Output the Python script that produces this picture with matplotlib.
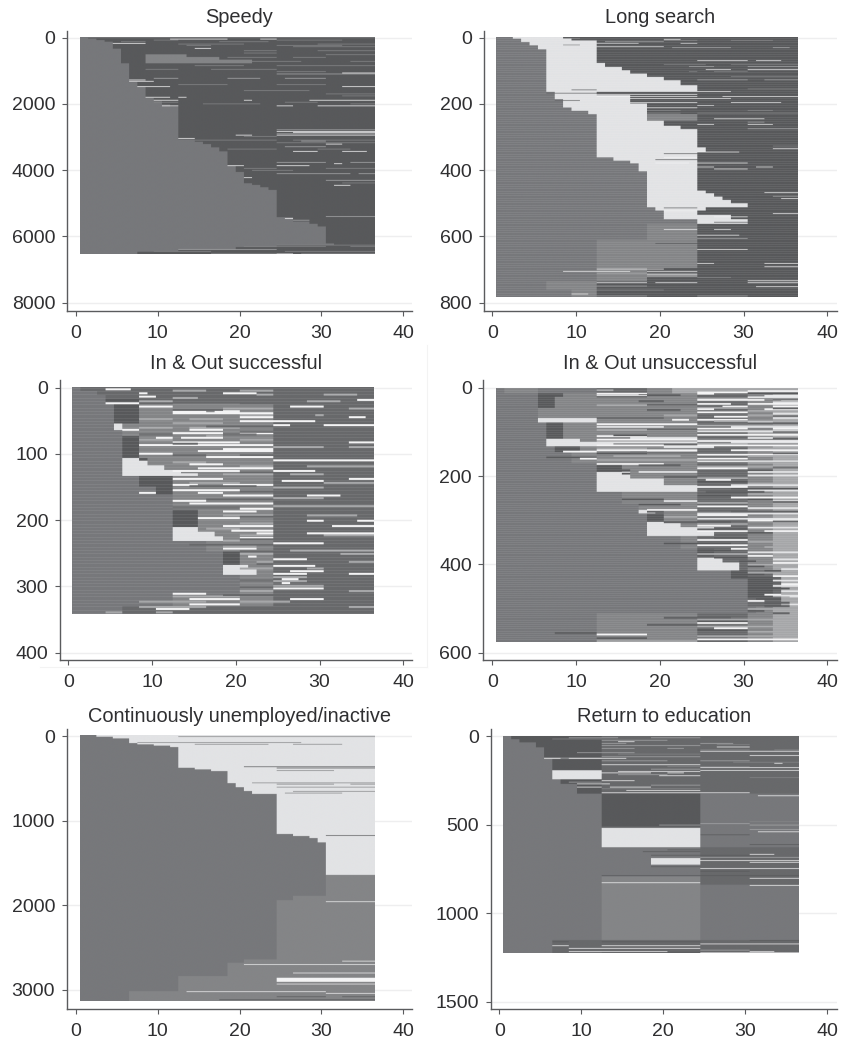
import numpy as np
import matplotlib
matplotlib.use('Agg')
import matplotlib.pyplot as plt
from matplotlib.colors import ListedColormap
from matplotlib.lines import Line2D

plt.rcParams['font.family'] = ['Liberation Sans', 'DejaVu Sans']

# state codes of the sequences, month 1 to 36
state_names = ['a', 'd', 'e', 'm', 'g', 'l', 'w']
state_colors = ['#77787b', '#58595b', '#68696b', '#848587', '#a6a7a9', '#e2e3e5', '#f4f4f5']

titles = ['Speedy', 'Long search', 'In & Out successful', 'In & Out unsuccessful',
          'Continuously unemployed/inactive', 'Return to education']
y_ticks = [[0, 2000, 4000, 6000, 8000], [0, 200, 400, 600, 800], [0, 100, 200, 300, 400],
           [0, 200, 400, 600], [0, 1000, 2000, 3000], [0, 500, 1000, 1500]]
x_ticks = [0, 10, 20, 30, 40]

# bands: last sequence number of the band, then runs of state + months (no number = rest)
# thin: sequence number, state, month ranges of the single sequences that stand out
speedy_rows = [
    "50 a1 d", "90 a2 d", "140 a3 d", "350 a4 d", "520 a5 d", "600 a5 d3 m5 d",
    "680 a5 d3 m9 d", "790 a5 d3 m13 d", "1350 a6 d", "1500 a7 d", "1830 a8 d", "1930 a9 d",
    "2030 a10 d", "2090 a11 d", "3080 a12 d", "3150 a14 d", "3220 a15 d", "3320 a16 d",
    "3440 a17 d", "3860 a18 d", "4060 a19 d", "4400 a20 d", "4450 a21 d", "4520 a22 d",
    "4600 a23 d", "5420 a24 d", "5550 a26 d", "5620 a28 d", "5700 a29 d", "6210 a30 d",
    "6260 a31 d", "6320 a24 d", "6400 a19 d", "6460 a12 d", "6530 a7 d",
]
speedy_thin = [
    "10 m 1-36", "50 w 11-18 22-24", "80 m 9-12 24-32", "130 m 5-8 17-23", "180 w 4-8",
    "200 m 12-20 29-36", "240 m 13-16 24-32", "280 m 26-36", "330 w 14-16", "400 m 20-24 29-36",
    "470 m 20-24", "520 m 30-36", "600 m 18-24 26-30", "720 m 20-27 33-36", "850 m 14-20 24-36",
    "960 m 8-12 16-24", "1030 m 24-30", "1070 w 32-36", "1100 g 24-28 28-36", "1230 g 9-12 18-22 25-30",
    "1280 w 6-8", "1320 w 6-9", "1420 m 12-18 24-30", "1480 w 7-11 32-36", "1600 m 20-28",
    "1700 m 30-36", "1760 m 32-36", "1800 w 8-11 12-13", "1890 w 9-12 20-21 28-36",
    "1950 m 9-12 25-29", "2000 m 15-22 33-36", "2060 w 10-12 24-26 29-36", "2780 g 24-36",
    "2830 w 24-36", "2860 w 26-36", "2900 g 24-32 32-36", "2940 w 19-21 24-36", "2980 m 20-24",
    "3040 w 12-14", "3090 m 14-24 26-36", "3120 g 27-30", "3170 m 24-36", "3210 w 30-32",
    "3290 g 25-30", "3360 m 18-24 29-33", "3430 w 26-29 32-35", "3760 g 24-30 33-36",
    "3800 w 31-32", "3860 w 18-20 24-28", "3940 m 20-24 30-36", "4000 m 21-26", "4100 g 24-33 34-36",
    "4220 w 20-21", "4300 g 30-36", "4380 m 32-36", "4450 w 31-33", "5390 g 30-36", "5450 w 25-26",
    "5500 g 26-28", "6250 m 24-36", "6290 m 20-30 33-36", "6380 g 12-24", "6440 m 9-16 25-36",
    "6500 m 16-24 27-36", "6515 w 24-26",
]

long_search_rows = [
    "5 a2 l6 d", "10 a3 l6 d", "15 a3 l9 d", "25 a4 l8 d", "37 a5 l7 d", "78 a6 l6 d",
    "90 a6 l7 d", "100 a6 l9 d", "110 a6 l10 d", "120 a6 l12 d", "130 a6 l14 d", "145 a6 l16 d",
    "165 a6 l18 d", "175 a7 l5 d", "187 a7 l9 d", "200 a8 l8 d", "212 a8 l10 d", "222 a9 l9 d",
    "232 a11 l7 d", "252 a12 l6 m6 d", "267 a12 l8 d", "277 a12 l10 d", "332 a12 l12 d",
    "345 a12 l13 d", "362 a12 l12 d", "372 a14 l10 d", "380 a16 l8 d", "404 a17 l7 d",
    "462 a18 l6 d", "470 a18 l7 d", "480 a18 l8 d", "490 a18 l9 d", "500 a18 l10 d",
    "512 a18 l12 d", "522 a19 l6 d", "535 a20 l4 d", "548 a20 l8 d", "562 a24 l6 d",
    "610 a18 m6 d", "670 a12 m12 d", "695 a12 m12 d", "735 a12 m6 d", "760 a6 m6 d", "782 a9 m3 d",
]
long_search_thin = [
    "3 m 8-10", "6 w 20-22", "9 m 9-12 20-24 28-33", "13 g 13-20", "18 l 12-17 22-24", "23 m 8-10",
    "28 l 12-20", "31 g 21-28 33-35", "70 w 24-29 29-30 31-34", "82 m 20-25 28-36", "88 g 23-26 30-36",
    "97 w 25-28 30-36", "103 m 23-24 26-30", "118 m 28-36", "128 g 24-30 32-36", "155 m 30-36",
    "158 d 9-12", "163 w 24-28", "168 d 6-12", "172 w 12-24", "178 w 12-24 27-36", "184 w 16-28",
    "190 d 7-10 16-22", "196 w 16-24 28-34", "205 l 14-18 24-26", "212 w 18-24", "220 m 18-22 30-33",
    "228 m 18-22 24-36", "245 w 26-32", "255 g 30-32", "262 w 24-26 30-33", "275 g 30-36",
    "327 m 33-36", "335 w 33-36", "345 w 24-29", "350 d 20-24", "362 w 20-24", "368 d 19-24",
    "378 w 19-23 24-30", "390 w 24-26 31-33", "396 w 26-30", "467 w 32-36", "478 g 33-36",
    "485 w 34-36", "513 d 20-24", "522 w 20-24", "530 w 33-36", "540 w 26-30", "556 d 26-30",
    "578 w 20-24 26-28", "595 w 24-29", "605 g 24-30", "620 d 19-24", "638 w 24-30",
    "680 w 24-26 32-36", "690 w 32-36", "697 w 12-20", "704 w 8-12 12-16 18-24", "710 g 12-24",
    "714 w 18-24", "718 w 18-24", "722 m 12-18 24-28", "732 w 30-36", "738 w 12-18 19-24 30-36", "750 w 31-36",
    "748 g 12-18", "760 m 12-20", "772 w 9-11", "778 g 12-18 24-30",
]

in_out_ok_rows = [
    "6 a1 e", "12 a3 e", "18 a4 e", "26 a4 d4 e", "55 a5 d3 m4 m12 e", "65 a5 l1 m18 e", "74 a6 m18 e",
    "107 a6 d2 m16 e", "111 a6 l2 d1 m15 e", "118 a6 l3 m15 e", "125 a6 l5 m13 e", "130 a6 l7 m11 e",
    "134 a6 l9 m9 e", "150 a8 d4 m12 e", "162 a10 d2 m12 e", "185 a12 m12 e", "211 a12 d3 m9 e",
    "218 a12 l3 m9 e", "225 a12 l5 m7 e", "232 a12 l6 m6 e", "248 a16 m8 e", "268 a18 d2 m4 e",
    "275 a18 l3 m3 e", "283 a18 l4 m2 e", "315 a20 m4 e", "330 a12 m12 e", "342 a6 e",
]
in_out_ok_thin = [
    "2 w 4-7", "4 g 12-16 20-24", "6 e 8-12", "8 w 8-9 18-22", "10 g 22-24 30-34", "13 w 8-10", "15 g 12-15",
    "18 w 34-36", "20 g 8-12 28-32", "23 w 4-8", "25 m 12-20", "28 w 8-12 26-30", "31 g 18-24 33-36",
    "35 w 12-16 17-20", "38 w 12-24", "41 g 20-24 29-30", "44 w 20-24 33-35", "47 g 8-12 14-18",
    "50 w 20-24 24-29", "53 g 12-18", "56 w 24-26 30-36", "60 g 8-12 14-20", "63 w 6-8 14-18",
    "68 w 12-18 20-24", "72 g 16-18", "75 w 10-12 13-18", "78 g 8-12 20-24", "82 w 12-20 33-36",
    "86 w 8-24", "89 g 24-30 33-36", "92 w 18-24", "95 w 15-24", "99 w 8-12", "104 w 16-24",
    "109 w 24-36", "112 g 12-16", "115 w 14-18", "118 g 20-24 28-36", "121 w 15-24", "125 w 12-20 24-29",
    "130 g 18-24 26-30", "137 w 12-18 33-36", "140 w 25-30", "143 g 14-20 30-36", "146 w 12-15 18-24",
    "150 g 24-30", "154 w 12-20", "158 w 8-10 15-18", "162 w 18-24 28-32", "166 g 24-30", "170 w 12-16",
    "174 w 14-18 18-24", "178 g 24-36", "182 w 20-24", "186 w 18-22", "192 g 18-24 28-34", "196 w 15-20",
    "200 w 28-30 34-36", "204 g 20-24", "208 w 18-24 31-36", "212 g 16-20", "215 w 19-24", "219 w 22-24 28-36",
    "222 g 20-24 30-36", "226 w 20-24", "230 g 18-20", "234 w 24-30", "238 g 18-22", "242 w 18-22", "245 g 26-36",
    "250 g 20-24 32-36", "254 w 21-22", "258 w 24-28", "262 g 22-24 33-36", "268 w 24-29", "272 g 20-24 28-30",
    "276 w 26-30", "280 w 24-28 33-36", "285 g 24-28", "288 w 25-27", "291 g 24-28", "294 w 25-26", "298 g 24-30",
    "302 w 24-30", "306 g 20-24 33-36", "310 w 12-16", "314 g 12-20", "318 w 14-20 26-30", "322 g 8-16 20-26",
    "326 w 14-20", "330 g 8-16 33-36", "333 w 10-14", "338 g 4-6 10-12",
    # darker pieces in the middle zone
    "33 e 12-18", "58 e 16-24", "66 e 20-24", "70 e 8-12 18-22", "84 e 12-15", "101 e 12-16 20-24", "127 e 20-24",
    "148 e 14-22", "156 e 20-24", "168 e 16-24", "180 e 12-20", "194 e 20-24", "228 e 20-24", "236 e 14-24",
    "246 e 20-24", "265 e 22-24", "290 e 20-24", "300 e 20-24", "312 e 18-24",
]

in_out_bad_rows = [
    "12 a1 m4 a7 e6 m3 g", "20 a5 d3 m4 m12 e6 m3 g", "45 a5 d2 m5 m12 e6 m3 g", "68 a5 m7 m12 e6 m3 g",
    "78 a5 l7 m12 e6 m3 g", "115 a6 d2 m4 m12 e6 m3 g", "122 a6 l4 m2 m12 m", "132 a6 l8 m10 m",
    "145 a7 d3 m2 m12 e6 m3 g", "170 a9 m3 m12 e6 m3 g", "190 a12 d3 m9 e6 m3 g", "205 a12 l4 m8 e6 m3 g",
    "220 a12 l8 m4 e6 m3 g", "235 a12 l12 e6 m3 g", "262 a15 m9 e6 m3 g", "276 a17 m7 e6 m3 g",
    "284 a17 l2 m5 e6 m3 g", "303 a18 d2 m4 e6 m3 g", "315 a18 l4 m2 e6 m3 g", "325 a18 l6 l2 e4 m3 g",
    "335 a18 l8 e4 m3 g", "364 a22 m2 e6 m3 g", "384 a24 d2 e4 m3 g", "395 a24 l3 e3 m3 g",
    "413 a24 l5 e1 m3 g", "430 a28 d2 e3 g", "475 a30 d3 e1 g", "495 a30 e4 g", "510 a31 m2 g", "575 a12 m12 e6 m3 g",
]
in_out_bad_thin = [
    "3 g 12-14 30-36", "5 w 30-36", "8 w 24-30", "11 w 12-18 24-26", "14 d 17-22", "16 w 12-18 32-36", "19 l 30-36",
    "22 g 24-30", "25 w 24-32 34-36", "28 d 17-20", "31 l 33-36", "34 w 24-28 30-36", "37 g 12-18", "40 w 27-30 33-36",
    "43 g 24-30", "46 w 24-26 32-36", "50 g 30-36", "53 w 24-30", "56 l 33-36", "60 g 20-24 30-36", "63 w 26-30",
    "66 l 33-36", "70 w 21-23 24-30", "73 g 26-36", "76 l 30-33", "80 w 12-24", "83 g 24-36", "86 l 12-20 28-36",
    "90 w 24-30 33-36", "93 g 12-24", "96 l 24-36", "100 g 30-36", "104 w 24-36", "107 w 12-18", "111 l 16-24 30-36",
    "115 w 12-24", "118 w 24-36", "121 l 12-24 28-36", "125 g 24-30", "128 w 12-36", "132 l 20-26", "135 g 12-18 30-36",
    "139 w 12-24 28-36", "142 w 8-12 18-24", "146 d 12-18", "149 w 24-36", "152 g 14-22 30-36", "155 d 6-12", "158 w 10-12 24-30",
    "161 g 12-24", "164 l 24-36", "167 g 30-36", "170 w 12-20", "173 d 17-22", "176 g 24-36", "180 w 24-30", "184 d 12-16 30-33",
    "188 l 17-24 30-36", "192 d 15-16", "196 l 30-36", "199 d 20-24", "202 g 24-30", "206 w 25-28", "210 d 24-30", "214 g 30-36",
    "218 l 28-36", "222 w 24-30", "226 d 28-36", "230 l 30-36", "233 d 25-32", "238 g 30-36", "242 d 24-28", "246 w 28-36",
    "250 d 15-20 30-33", "254 l 20-24 33-36", "258 g 24-30", "262 d 17-22", "266 w 24-30", "270 l 30-36", "274 w 18-24",
    "278 d 18-20 28-36", "282 l 24-36", "286 w 24-30", "290 g 20-24", "294 l 24-36", "298 w 30-36", "302 d 20-28",
    "306 g 24-30", "310 w 24-28", "314 l 30-36", "318 d 24-30", "322 w 24-30 32-36", "326 d 30-33", "330 g 33-36",
    "338 d 26-30", "342 w 24-30", "346 g 30-36", "350 d 20-28", "354 w 24-30", "358 g 32-36", "362 w 28-30", "366 d 24-28",
    "370 l 30-36", "374 g 24-30", "378 w 30-33", "382 d 26-30", "386 l 33-36", "390 d 29-31", "394 w 33-36", "398 g 30-33",
    "402 d 30-32", "408 l 34-36", "412 d 32-34", "416 g 30-34", "420 d 28-32", "424 w 33-36", "428 d 28-34", "434 l 33-36",
    "438 d 30-34", "442 w 34-36", "446 l 33-36", "452 d 30-35", "458 l 34-36", "462 d 30-32", "466 w 32-34", "470 l 35-36",
    "476 d 31-34", "480 w 30-32", "484 d 32-35", "488 l 35-36", "492 d 32-35", "498 g 30-33", "503 d 30-32", "508 d 33-35",
    "514 m 18-24", "518 d 20-28", "522 g 24-36", "526 d 24-30", "530 w 24-30", "534 d 18-24", "538 g 24-36", "542 w 26-30",
    "546 d 24-30", "550 g 30-36", "553 d 7-12", "556 w 12-18", "560 g 24-36", "564 d 12-18", "567 w 24-36", "571 g 12-24",
    # dark lines over the light right end, and pieces in the middle zone
    "10 d 30-36", "24 e 33-36", "44 d 33-36", "62 e 33-36", "78 d 30-36", "98 e 33-36", "112 d 33-36", "146 e 33-36",
    "178 e 33-36", "256 e 33-36", "300 e 33-36", "468 l 33-36", "18 e 12-18", "36 e 18-24", "48 d 18-22", "66 e 12-20",
    "92 e 18-24", "105 d 14-18", "126 e 20-24", "144 e 16-24",
]

unemployed_rows = [
    "20 a2 l", "40 a4 l", "95 a6 l", "110 a7 l", "125 a9 l", "142 a11 l", "386 a12 l", "405 a14 l", "425 a16 l",
    "567 a18 l", "615 a19 l", "660 a20 l", "694 a21 l", "1166 a24 l", "1190 a26 l", "1214 a28 l", "1265 a29 l",
    "1640 a30 l", "1895 a30 m", "1946 a26 m", "2644 a24 m", "2683 a20 m", "2840 a18 m", "3018 a12 m", "3134 a6 m",
]
unemployed_thin = [
    "15 m 12-36", "85 m 7-27", "105 m 14-23 26-32", "140 l 33-36", "370 d 20-36", "385 d 24-36", "415 m 24-31", "560 m 21-36",
    "575 m 24-31 33-36", "610 m 24-36", "660 m 26-36", "680 m 25-32", "1180 d 30-36", "1190 l 30-36", "1640 l 30-36", "1960 w 30-36",
    "2660 w 32-36", "2700 w 20-36", "2750 m 30-36", "2800 w 26-36", "2860 w 24-36", "2868 w 24-36", "2876 w 24-36", "2884 w 24-36",
    "2892 w 24-36", "2900 w 24-36", "2930 w 24-36", "3020 w 13-30",
    "3040 w 30-36", "3080 d 24-30 32-36", "3115 d 17-36",
]

education_rows = [
    "18 a1 d11 e", "36 a2 d10 e", "55 a4 d8 e", "64 a4 d8 e", "121 a5 d7 e", "130 a5 m7 e", "193 a6 d6 e", "244 a6 l6 e",
    "270 a7 d5 e", "325 a9 d3 e", "510 a12 d12 a", "518 a12 e12 a", "627 a12 l12 a", "688 a16 a8 e", "725 a18 l6 e",
    "792 a18 a6 e", "838 a12 m12 e", "1150 a12 m12 a", "1223 a6 e",
]
education_thin = [
    "8 g 8-14 18-24", "15 m 6-12", "22 g 12-20", "30 w 14-16", "40 g 12-15 24-28", "46 m 26-30", "52 g 12-24", "60 w 26-30",
    "68 g 12-16 20-22", "76 m 24-30 33-36", "84 w 24-36", "92 g 9-16", "100 m 14-24", "108 w 30-36", "115 g 12-24",
    "124 w 5-7 8-15", "138 g 12-20 24-30", "146 m 28-36", "152 w 33-34", "160 w 12-24", "170 m 20-30", "176 w 24-36",
    "185 g 18-24", "192 w 24-36", "198 w 14-24", "206 w 12-18 20-22", "216 g 14-20", "222 w 19-24", "232 m 30-36",
    "250 w 12-16", "258 g 8-12", "268 w 9-13", "275 g 18-24", "286 w 9-12 13-18", "295 m 12-24", "305 w 15-24",
    "318 w 12-30", "335 w 31-36", "480 m 30-36", "492 g 24-30", "500 g 19-24 30-36", "525 g 30-36", "538 w 31-33 33-36",
    "555 d 24-30", "610 d 30-36", "640 d 20-24", "650 d 17-24", "665 w 30-33", "670 d 18-30", "682 g 24-30 30-36",
    "700 w 24-36", "710 w 30-36", "735 d 18-24", "745 w 24-30 30-36", "760 d 24-30", "785 d 12-36", "800 w 30-36",
    "815 m 20-24", "825 w 12-24", "840 w 30-36", "1150 d 30-36", "1158 d 6-8 12-24", "1170 w 24-36", "1180 w 6-8 12-24",
    "1195 w 8-24", "1205 g 24-30", "1213 w 8-20 30-33", "1217 d 12-24", "1220 w 24-36",
]

all_rows = [speedy_rows, long_search_rows, in_out_ok_rows, in_out_bad_rows, unemployed_rows, education_rows]
all_thin = [speedy_thin, long_search_thin, in_out_ok_thin, in_out_bad_thin, unemployed_thin, education_thin]
thin_size = [22, 2, 3, 4, 8, 4]
stripe_every = [0, 7, 5, 5, 0, 0]

# pixel layout of each panel: left, right, top, bottom, x=0, x=40, y=0, y=last tick
panel_px = [
    (66.7, 412, 30.7, 311, 75.7, 403.3, 37.7, 302.7),
    (483.7, 836.7, 30.7, 311, 492.3, 827.3, 37.7, 302.7),
    (59.7, 411.7, 380.5, 660, 68.3, 403.3, 387.7, 652.7),
    (483.3, 836.7, 380.5, 660, 492.3, 827.3, 387.7, 652.7),
    (66.7, 412, 729.3, 1009, 75.7, 403.3, 736.3, 990),
    (490.7, 836.7, 729.3, 1009, 499.3, 827.3, 736.3, 1001.7),
]
title_pad = [5.5, 5.5, 8.5, 8.5, 5.5, 5.5]

W, H = 841, 1040


def rows_to_image(rows, thin, size):
    # one image line per sequence, ten columns per month so the scaling stays sharp along x
    lines = []
    prev = 0
    for r in rows:
        parts = r.split()
        end = int(parts[0])
        row = []
        for tok in parts[1:]:
            n = int(tok[1:]) if tok[1:] else 36 - len(row)
            row += [state_names.index(tok[0])] * n
        row = (row + [row[-1]] * 36)[:36]
        lines += [row] * (end - prev)
        prev = end
    img = np.array(lines)
    for t in thin:
        parts = t.split()
        y = int(parts[0])
        for rng in parts[2:]:
            a, b = rng.split('-')
            img[y:y + size, int(a):int(b)] = state_names.index(parts[1])
    return np.repeat(img, 10, axis=1)


fig = plt.figure(figsize=(W / 100, H / 100), dpi=100)
cmap = ListedColormap(state_colors)
axis_color = '#5a5b5d'
text_color = '#2f2f31'

for i, rows in enumerate(all_rows):
    left, right, top, bottom, x0, x40, y0, yl = panel_px[i]
    ax = fig.add_axes([left / W, 1 - bottom / H, (right - left) / W, (bottom - top) / H])
    img = rows_to_image(rows, all_thin[i], thin_size[i])
    ax.imshow(img, cmap=cmap, vmin=-0.5, vmax=len(state_colors) - 0.5, aspect='auto',
              extent=(0.5, 36.5, img.shape[0], 0), interpolation='hanning',
              interpolation_stage='rgba', zorder=2)
    if stripe_every[i]:
        ax.hlines(np.arange(0, img.shape[0], stripe_every[i]), 0.5, 36.5, color='white',
                  alpha=0.07, lw=0.8, zorder=3)

    px_x = (x40 - x0) / 40
    ticks = y_ticks[i]
    px_y = (yl - y0) / ticks[-1]
    ax.set_xlim((left - x0) / px_x, (right - x0) / px_x)
    ax.set_ylim((bottom - y0) / px_y, (top - y0) / px_y)
    ax.set_xticks(x_ticks)
    ax.set_yticks(ticks)
    ax.grid(axis='y', color='#eeeeef', lw=1, zorder=0)
    ax.set_axisbelow(True)
    ax.spines['top'].set_visible(False)
    ax.spines['right'].set_visible(False)
    for s in ['left', 'bottom']:
        ax.spines[s].set_color(axis_color)
        ax.spines[s].set_linewidth(1.0)
    ax.tick_params(axis='both', length=3.8, width=0.8, color=axis_color,
                   labelsize=14, labelcolor=text_color)
    ax.tick_params(axis='x', pad=6)
    ax.tick_params(axis='y', pad=4.5)
    ax.set_title(titles[i], fontsize=14.4, color=text_color, pad=title_pad[i])

# faint frame left over around the middle left panel
fig.add_artist(Line2D([427 / W, 427 / W], [1 - 345 / H, 1 - 667 / H], color='#f3f3f3', lw=0.8))
fig.add_artist(Line2D([40 / W, 427 / W], [1 - 667 / H, 1 - 667 / H], color='#f3f3f3', lw=0.8))

fig.savefig('out.png', dpi=100, facecolor='white')
